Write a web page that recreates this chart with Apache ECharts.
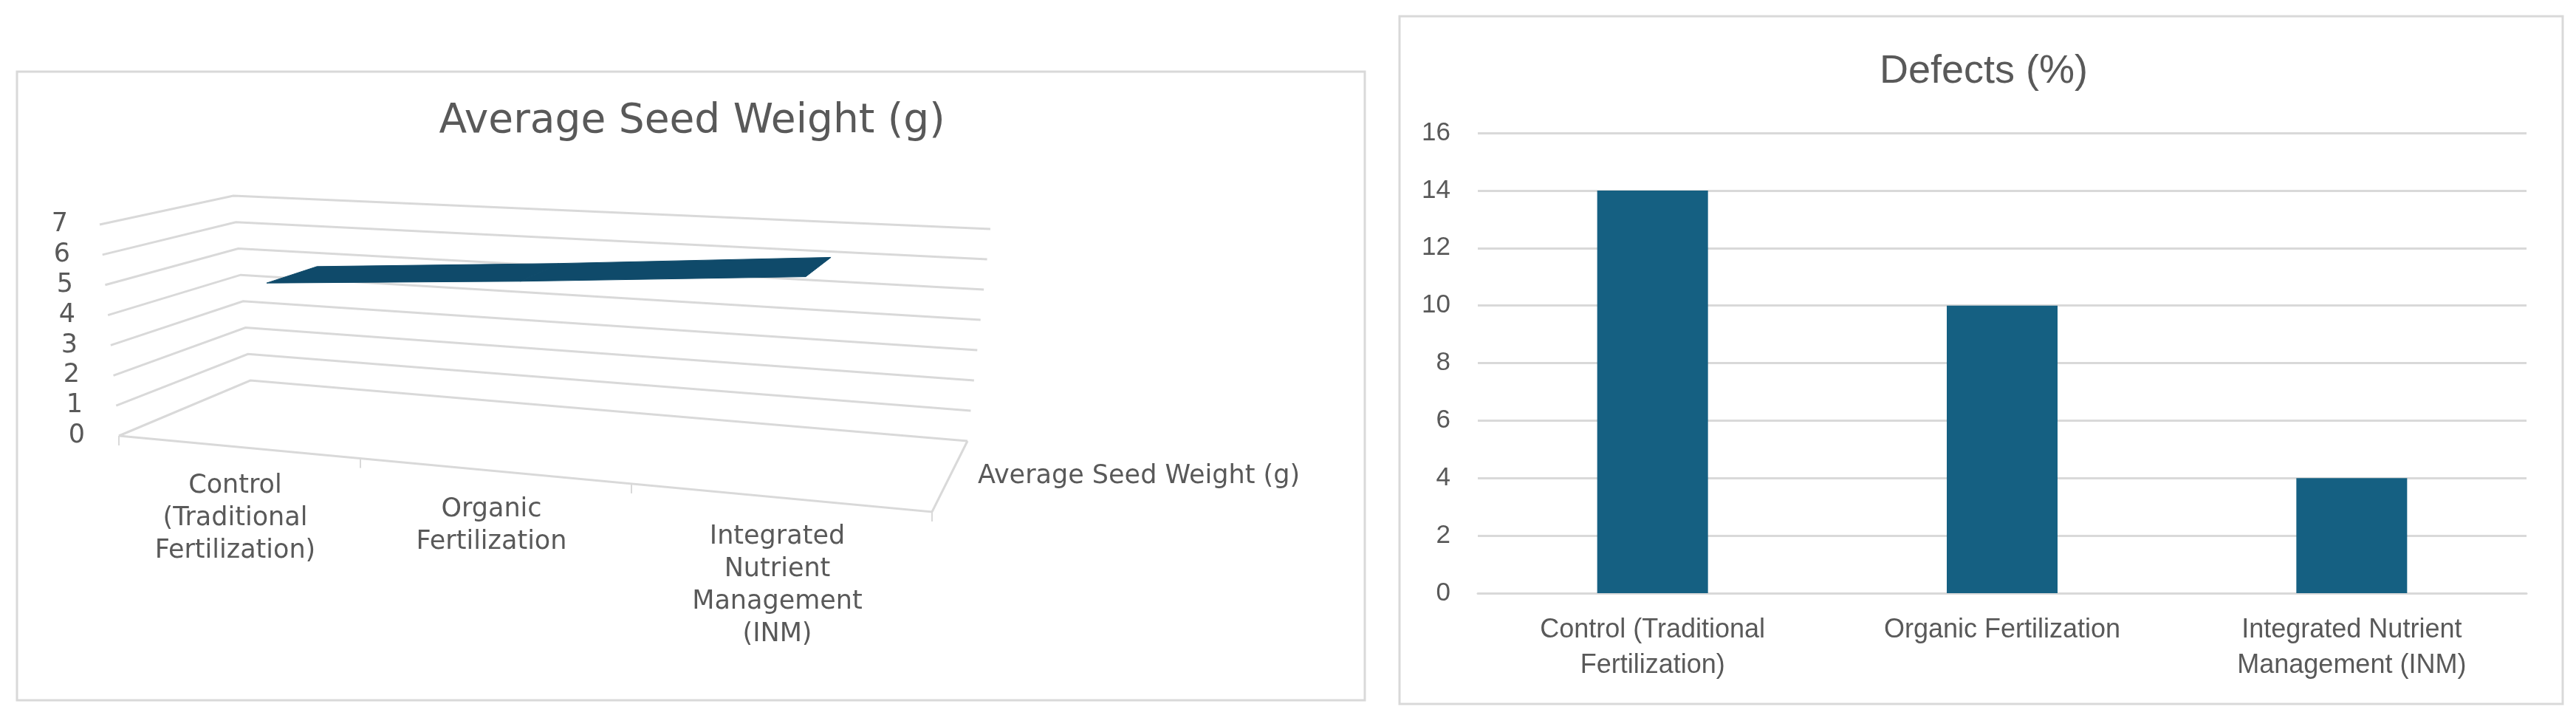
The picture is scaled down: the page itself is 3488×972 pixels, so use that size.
<!DOCTYPE html>
<html>
<head>
<meta charset="utf-8">
<style>html,body{margin:0;padding:0;background:#fff}#c{width:3488px;height:972px}</style>
<script src="https://cdn.jsdelivr.net/npm/echarts@6/dist/echarts.min.js"></script>
</head>
<body>
<div id="c"></div>
<script>
// ---- data ----
const seedTitle = 'Average Seed Weight (g)';
const seedCategories = ['Control\n(Traditional\nFertilization)', 'Organic\nFertilization', 'Integrated\nNutrient\nManagement\n(INM)'];
const seedWeights = [4.9, 5.5, 6.2];
const seedTicks = [0, 1, 2, 3, 4, 5, 6, 7];

const defectTitle = 'Defects (%)';
const defectCategories = ['Control (Traditional\nFertilization)', 'Organic Fertilization', 'Integrated Nutrient\nManagement (INM)'];
const defectValues = [14, 10, 4];

// ---- 3D box projection: maps (category position, depth, value) to the page ----
const LINE = '#d9d9d9', TEXT = '#595959', BAR = '#156082', RIBBON = '#0f4a6a';
const LEFT_FONT = '"DejaVu Sans"', RIGHT_FONT = '"Liberation Sans"';
const box = {
  FL: [161, 590], FR: [1262, 693], BL: [339, 515], BR: [1310, 597],      // floor corners
  tFL: [-26, -286], tFR: [20, -320], tBL: [-23, -250], tBR: [31, -287]   // offset of the top (value 7)
};
const lerp = (a, b, t) => [a[0] + (b[0] - a[0]) * t, a[1] + (b[1] - a[1]) * t];
const warp = u => 0.8365 * u + 0.1635 * u * u;   // perspective along the category axis
function project(api, params, cat, depth, val) {
  const c = api.coord([cat, val]), cs = params.coordSys;
  const fu = warp((c[0] - cs.x) / cs.width);
  const fv = (cs.y + cs.height - c[1]) / cs.height;
  const floor = lerp(lerp(box.FL, box.FR, fu), lerp(box.BL, box.BR, fu), depth);
  const top = lerp(lerp(box.tFL, box.tFR, fu), lerp(box.tBL, box.tBR, fu), depth);
  return [floor[0] + top[0] * fv, floor[1] + top[1] * fv];
}
const segment = pts => ({ type: 'polyline', shape: { points: pts }, style: { stroke: LINE, lineWidth: 3, fill: null } });

const RIB_FRONT = 0.34, RIB_BACK = 0.76;
const ribbonData = seedWeights.slice(0, -1).map((v, i) => [i + 0.5, v, i + 1.5, seedWeights[i + 1]]);

const option = {
  animation: false,
  backgroundColor: '#fff',
  textStyle: { color: TEXT },
  graphic: [
    { type: 'rect', z: -1, shape: { x: 23, y: 97, width: 1825, height: 851 }, style: { fill: '#fff', stroke: LINE, lineWidth: 3 } },
    { type: 'rect', z: -1, shape: { x: 1895, y: 22, width: 1575, height: 931 }, style: { fill: '#fff', stroke: LINE, lineWidth: 3 } }
  ],
  title: [
    { text: seedTitle, left: 932, top: 160, textAlign: 'center', textVerticalAlign: 'middle',
      textStyle: { fontFamily: LEFT_FONT, fontSize: 55, fontWeight: 'normal', color: TEXT } },
    { text: defectTitle, left: 2681, top: 92, textAlign: 'center', textVerticalAlign: 'middle',
      textStyle: { fontFamily: RIGHT_FONT, fontSize: 54, fontWeight: 'normal', color: TEXT } }
  ],
  grid: [
    { left: 161, top: 304, width: 1101, height: 286 },
    { left: 2001, top: 180, width: 1420, height: 623 }
  ],
  xAxis: [
    { gridIndex: 0, type: 'value', min: 0, max: 3, show: false },
    { gridIndex: 1, type: 'category', data: defectCategories,
      axisLine: { lineStyle: { color: LINE, width: 3 } }, axisTick: { show: false },
      axisLabel: { interval: 0, margin: 26, fontFamily: RIGHT_FONT, fontSize: 36, lineHeight: 48, color: TEXT } }
  ],
  yAxis: [
    { gridIndex: 0, type: 'value', min: 0, max: 7, interval: 1,
      axisLine: { show: false }, axisTick: { show: false }, splitLine: { show: false },
      axisLabel: {
        margin: 46, color: TEXT,
        formatter: v => `{v${v}|${v}}`,
        rich: Object.fromEntries(seedTicks.map(v => ['v' + v, {
          fontFamily: LEFT_FONT, fontSize: 35, color: TEXT, padding: [0, Math.round(v * 23 / 7), 0, 0]
        }]))
      } },
    { gridIndex: 1, type: 'value', min: 0, max: 16, interval: 2,
      axisLine: { show: false }, axisTick: { show: false },
      splitLine: { lineStyle: { color: LINE, width: 3 } },
      axisLabel: { margin: 37, fontFamily: RIGHT_FONT, fontSize: 35, color: TEXT } }
  ],
  series: [
    { // wall gridlines
      type: 'custom', xAxisIndex: 0, yAxisIndex: 0, silent: true, z: 1,
      data: seedTicks.map(v => [v]),
      renderItem: (params, api) => {
        const v = api.value(0);
        return segment([project(api, params, 0, 0, v), project(api, params, 0, 1, v), project(api, params, 3, 1, v)]);
      }
    },
    { // floor front and right edges
      type: 'custom', xAxisIndex: 0, yAxisIndex: 0, silent: true, z: 1,
      data: [[0]],
      renderItem: (params, api) => segment([
        project(api, params, 0, 0, 0), project(api, params, 3, 0, 0), project(api, params, 3, 1, 0)
      ])
    },
    { // category ticks on the front edge
      type: 'custom', xAxisIndex: 0, yAxisIndex: 0, silent: true, z: 1,
      data: [[0], [1], [2], [3]],
      renderItem: (params, api) => {
        const p = project(api, params, api.value(0), 0, 0);
        return { type: 'line', shape: { x1: p[0], y1: p[1], x2: p[0], y2: p[1] + 13 }, style: { stroke: LINE, lineWidth: 2 } };
      }
    },
    { // the ribbon of the 3D line
      name: seedTitle, type: 'custom', xAxisIndex: 0, yAxisIndex: 0, silent: true, z: 3,
      data: ribbonData,
      renderItem: (params, api) => {
        const u0 = api.value(0), v0 = api.value(1), u1 = api.value(2), v1 = api.value(3);
        return { type: 'polygon', shape: { points: [
          project(api, params, u0, RIB_FRONT, v0), project(api, params, u1, RIB_FRONT, v1),
          project(api, params, u1, RIB_BACK, v1), project(api, params, u0, RIB_BACK, v0)
        ] }, style: { fill: RIBBON, stroke: RIBBON, lineWidth: 1 } };
      }
    },
    { // category labels along the front edge
      type: 'custom', xAxisIndex: 0, yAxisIndex: 0, silent: true, z: 4,
      data: seedCategories.map((c, i) => [i + 0.5, i]),
      renderItem: (params, api) => {
        const p = project(api, params, api.value(0), 0, 0);
        return { type: 'text', style: {
          text: seedCategories[api.value(1)], x: p[0] - 1, y: p[1] + 31, textAlign: 'center', textVerticalAlign: 'top',
          fontFamily: LEFT_FONT, fontSize: 35, lineHeight: 44, fill: TEXT
        } };
      }
    },
    { // depth axis label
      type: 'custom', xAxisIndex: 0, yAxisIndex: 0, silent: true, z: 4,
      data: [[3, 0]],
      renderItem: (params, api) => {
        const p = project(api, params, api.value(0), 0.5, api.value(1));
        return { type: 'text', style: {
          text: seedTitle, x: p[0] + 38, y: p[1], textAlign: 'left', textVerticalAlign: 'middle',
          fontFamily: LEFT_FONT, fontSize: 35, fill: TEXT
        } };
      }
    },
    { name: defectTitle, type: 'bar', xAxisIndex: 1, yAxisIndex: 1, data: defectValues, barWidth: 150,
      itemStyle: { color: BAR }, silent: true, z: 3 }
  ]
};
const chart = echarts.init(document.getElementById('c'), null, { renderer: 'canvas' });
chart.setOption(option);
</script>
</body>
</html>
